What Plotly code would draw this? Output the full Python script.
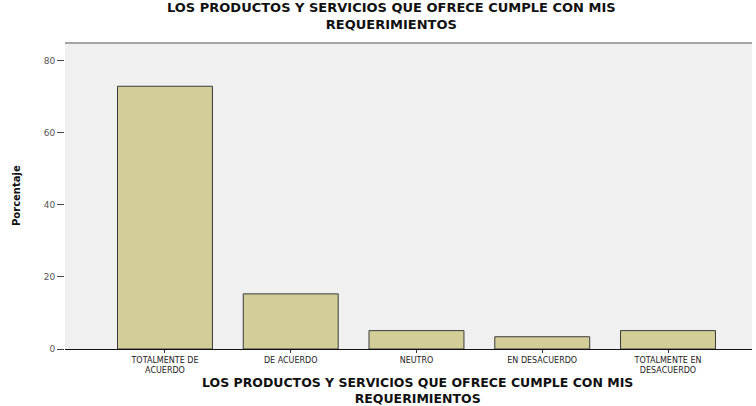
import plotly.graph_objects as go

# Survey response categories and the share of respondents (%) for each
categories = [
    "TOTALMENTE DE<br>ACUERDO",
    "DE ACUERDO",
    "NEUTRO",
    "EN DESACUERDO",
    "TOTALMENTE EN<br>DESACUERDO",
]
percentages = [72.9, 15.3, 5.1, 3.4, 5.1]
y_ticks = [0, 20, 40, 60, 80]

title_text = "LOS PRODUCTOS Y SERVICIOS QUE OFRECE CUMPLE CON MIS<br>REQUERIMIENTOS"

W, H = 756, 406
L, R, T, B = 65, 4, 43, 57
plot_w = W - L - R
plot_h = H - T - B


def px_x(px):
    return (px - L) / plot_w


def px_y(py):
    return (H - B - py) / plot_h


fig = go.Figure(
    go.Bar(
        x=list(range(len(categories))),
        y=percentages,
        width=0.755,
        marker=dict(color="#d3ce98", line=dict(color="#3a3a3a", width=1)),
        hoverinfo="x+y",
    )
)

fig.update_layout(
    width=W,
    height=H,
    margin=dict(l=L, r=R, t=T, b=B, autoexpand=False),
    paper_bgcolor="white",
    plot_bgcolor="#f0f0f0",
    showlegend=False,
    font=dict(family="DejaVu Sans", color="#222"),
    xaxis=dict(
        range=[-0.795, 4.668],
        tickmode="array",
        tickvals=list(range(len(categories))),
        ticktext=categories,
        tickfont=dict(size=8, color="#222"),
        ticks="outside",
        ticklen=3,
        tickcolor="#333",
        showline=True,
        linecolor="#111",
        linewidth=1,
        showgrid=False,
        zeroline=False,
        automargin=False,
    ),
    yaxis=dict(
        range=[0, 84.9],
        tickmode="array",
        tickvals=y_ticks,
        ticktext=[str(v) for v in y_ticks],
        tickfont=dict(size=9, color="#555"),
        ticks="outside",
        ticklen=7,
        tickcolor="#444",
        showline=False,
        showgrid=False,
        zeroline=False,
        automargin=False,
    ),
    shapes=[
        dict(
            type="line", xref="paper", yref="paper",
            x0=0, x1=1, y0=1, y1=1,
            line=dict(color="#8a8a8a", width=1.5),
        )
    ],
    annotations=[
        dict(
            text="<b>" + title_text + "</b>",
            xref="paper", yref="paper",
            x=px_x(391), y=px_y(16),
            xanchor="center", yanchor="middle",
            showarrow=False,
            font=dict(size=13, color="#111"),
        ),
        dict(
            text="<b>" + title_text + "</b>",
            xref="paper", yref="paper",
            x=px_x(417), y=px_y(390),
            xanchor="center", yanchor="middle",
            showarrow=False,
            font=dict(size=12.5, color="#111"),
        ),
        dict(
            text="<b>Porcentaje</b>",
            xref="paper", yref="paper",
            x=px_x(16), y=px_y(196),
            xanchor="center", yanchor="middle",
            textangle=-90,
            showarrow=False,
            font=dict(size=10, color="#111"),
        ),
    ],
)

fig.write_html("out.html")
